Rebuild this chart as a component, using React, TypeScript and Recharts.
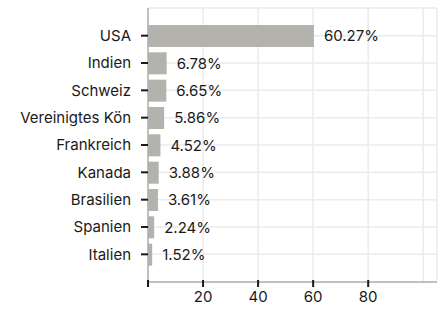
import { Bar, BarChart, CartesianGrid, LabelList, XAxis, YAxis } from 'recharts';

document.body.style.margin = '0';

const countries = [
  'USA',
  'Indien',
  'Schweiz',
  'Vereinigtes Königreich',
  'Frankreich',
  'Kanada',
  'Brasilien',
  'Spanien',
  'Italien',
];
const shares = [60.27, 6.78, 6.65, 5.86, 4.52, 3.88, 3.61, 2.24, 1.52];
const xTicks = [0, 20, 40, 60, 80, 100];

const data = countries.map((name, i) => ({ name, share: shares[i] }));

const font = 'Inter, "Noto Sans", sans-serif';
const textColor = '#1a1a1a';

function XTick(props: any) {
  const { x, y, payload } = props;
  const v = payload.value;
  if (v === 100) return null;
  return (
    <g>
      <line x1={x} x2={x} y1={y - 10} y2={y - 3} stroke={textColor} strokeWidth={2} />
      {v !== 0 && (
        <text x={x} y={y + 12} textAnchor="middle" fill={textColor} fontSize={15} fontFamily={font}>
          {v}
        </text>
      )}
    </g>
  );
}

const cut = (s: string) => (s.length > 15 ? s.slice(0, 15) : s);

export default function App() {
  return (
    <BarChart
      width={443}
      height={310}
      data={data}
      layout="vertical"
      margin={{ top: 8, right: 6, left: 0, bottom: 0 }}
      barSize={22}
    >
      <CartesianGrid stroke="#ebebeb" strokeWidth={1.5} />
      <XAxis
        type="number"
        domain={[0, 105]}
        ticks={xTicks}
        height={28}
        axisLine={{ stroke: '#b0b0b0', strokeWidth: 1.5 }}
        tickLine={false}
        tick={<XTick />}
        interval={0}
      />
      <YAxis
        type="category"
        dataKey="name"
        width={148}
        padding={{ top: 14, bottom: 14 }}
        axisLine={{ stroke: '#b0b0b0', strokeWidth: 1.5 }}
        tickLine={{ stroke: textColor, strokeWidth: 2 }}
        tickSize={7}
        tickMargin={10}
        tick={{ fill: textColor, fontSize: 15, fontFamily: font }}
        tickFormatter={cut}
        interval={0}
      />
      <Bar dataKey="share" fill="#b3b2ad" isAnimationActive={false}>
        <LabelList
          dataKey="share"
          position="right"
          offset={10}
          formatter={(v: any) => `${v}%`}
          fill={textColor}
          fontSize={15}
          fontFamily={font}
        />
      </Bar>
    </BarChart>
  );
}
